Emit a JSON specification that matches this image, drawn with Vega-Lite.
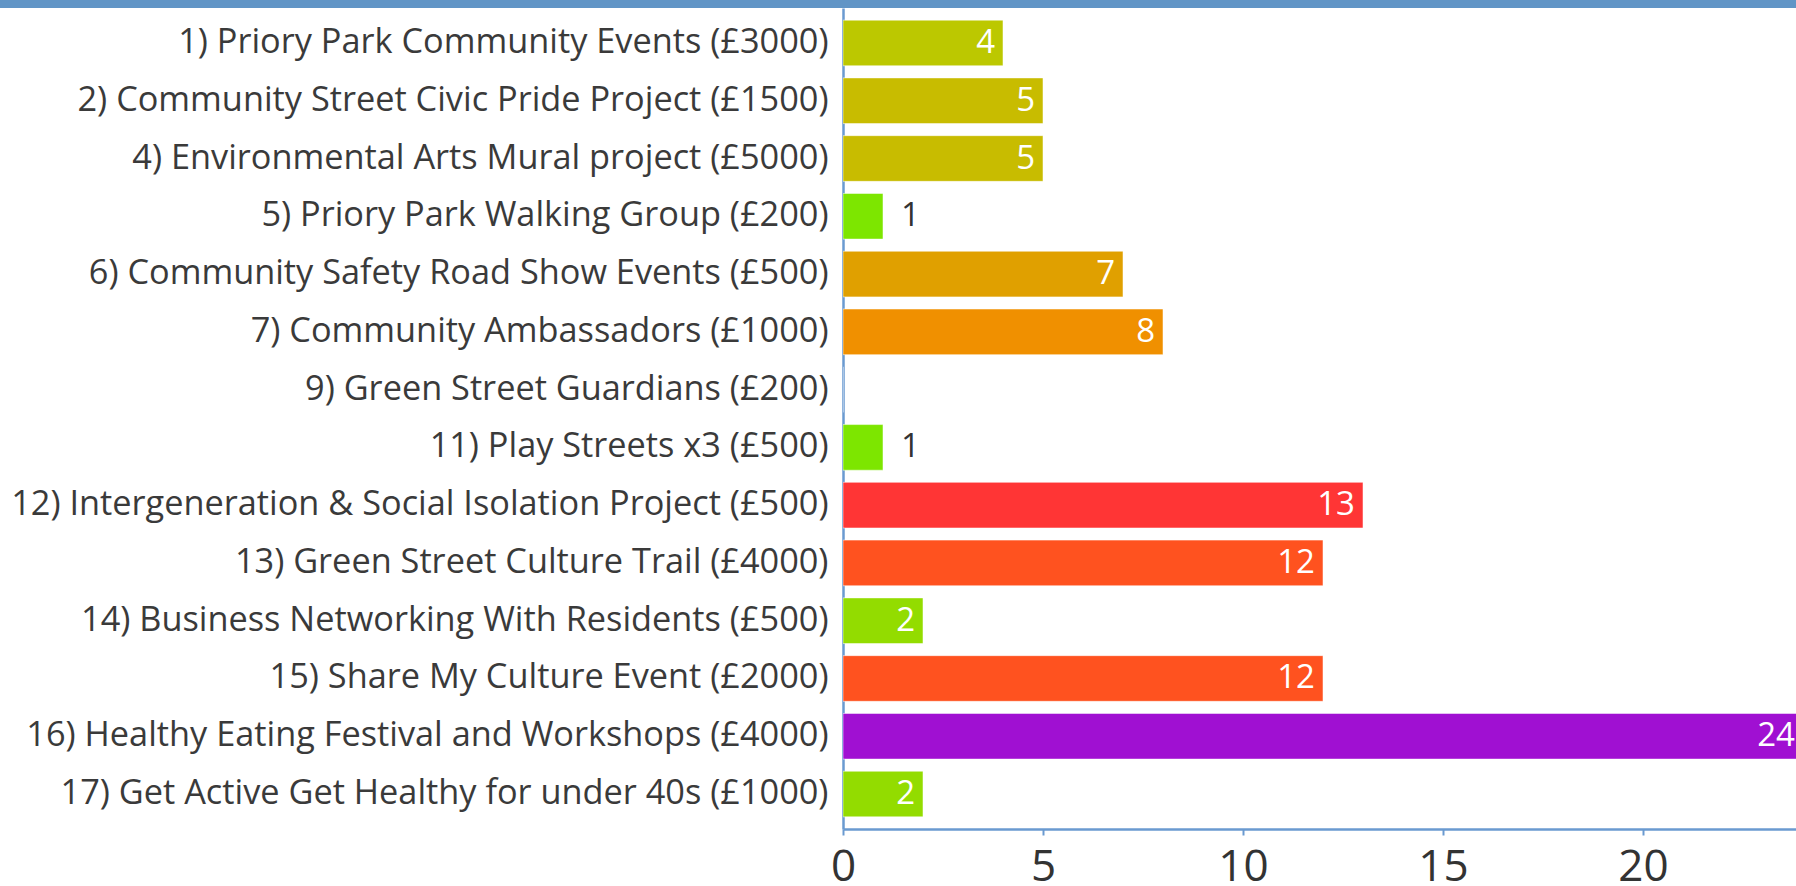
{
  "$schema": "https://vega.github.io/schema/vega-lite/v6.json",
  "padding": 0,
  "background": "#ffffff",
  "spacing": 0,
  "config": {"view": {"stroke": null}, "font": "Open Sans"},
  "datasets": {
    "votes": [
      {"project": "1) Priory Park Community Events (£3000)", "votes": 4},
      {"project": "2) Community Street Civic Pride Project (£1500)", "votes": 5},
      {"project": "4) Environmental Arts Mural project (£5000)", "votes": 5},
      {"project": "5) Priory Park Walking Group (£200)", "votes": 1},
      {"project": "6) Community Safety Road Show Events (£500)", "votes": 7},
      {"project": "7) Community Ambassadors (£1000)", "votes": 8},
      {"project": "9) Green Street Guardians (£200)", "votes": 0},
      {"project": "11) Play Streets x3 (£500)", "votes": 1},
      {"project": "12) Intergeneration & Social Isolation Project (£500)", "votes": 13},
      {"project": "13) Green Street Culture Trail (£4000)", "votes": 12},
      {"project": "14) Business Networking With Residents (£500)", "votes": 2},
      {"project": "15) Share My Culture Event (£2000)", "votes": 12},
      {"project": "16) Healthy Eating Festival and Workshops (£4000)", "votes": 24},
      {"project": "17) Get Active Get Healthy for under 40s (£1000)", "votes": 2}
    ],
    "band": [{"from": -21.075, "to": 23.825}]
  },
  "vconcat": [
    {
      "width": 953,
      "height": 8,
      "data": {"name": "band"},
      "mark": {"type": "rect", "color": "#6195c6"},
      "encoding": {
        "x": {"field": "from", "type": "quantitative", "scale": {"domain": [0, 23.825], "nice": false, "zero": false}, "axis": null},
        "x2": {"field": "to"}
      }
    },
    {
      "width": 953,
      "height": 821,
      "data": {"name": "votes"},
      "encoding": {
        "y": {
          "field": "project",
          "type": "nominal",
          "sort": null,
          "scale": {"paddingInner": 0.21, "paddingOuter": 0.21},
          "axis": {
            "title": null,
            "domainColor": "#6a9ad0",
            "domainWidth": 2.5,
            "ticks": false,
            "grid": false,
            "labelPadding": 15,
            "labelFontSize": 34.3,
            "labelFont": "Open Sans",
            "labelColor": "#3a3a3a",
            "labelLimit": 0
          }
        },
        "x": {
          "field": "votes",
          "type": "quantitative",
          "scale": {"domain": [0, 23.825], "nice": false},
          "axis": {
            "values": [0, 5, 10, 15, 20],
            "title": null,
            "grid": false,
            "domainColor": "#6a9ad0",
            "domainWidth": 2.5,
            "tickColor": "#6a9ad0",
            "tickWidth": 2,
            "tickSize": 6,
            "labelFontSize": 44,
            "labelFont": "Open Sans",
            "labelColor": "#333333",
            "labelPadding": 10,
            "labelFlush": false
          }
        }
      },
      "layer": [
        {
          "mark": {"type": "bar", "clip": true, "stroke": "#ffffff", "strokeWidth": 1, "strokeOpacity": 0.5},
          "encoding": {
            "color": {
              "field": "votes",
              "type": "ordinal",
              "scale": {
                "domain": [0, 1, 2, 4, 5, 7, 8, 12, 13, 24],
                "range": ["#cccccc", "#7de600", "#93dc00", "#bcc800", "#c8bc00", "#e0a000", "#f09000", "#ff521f", "#ff3535", "#a010d2"]
              },
              "legend": null
            }
          }
        },
        {
          "transform": [{"filter": "datum.votes >= 2"}],
          "mark": {"type": "text", "align": "right", "baseline": "middle", "dx": -8, "color": "#ffffff", "fontSize": 33, "font": "Open Sans"},
          "encoding": {"text": {"field": "votes", "type": "quantitative"}}
        },
        {
          "transform": [{"filter": "datum.votes == 1"}],
          "mark": {"type": "text", "align": "left", "baseline": "middle", "dx": 18, "color": "#333333", "fontSize": 33, "font": "Open Sans"},
          "encoding": {"text": {"field": "votes", "type": "quantitative"}}
        }
      ]
    }
  ]
}
